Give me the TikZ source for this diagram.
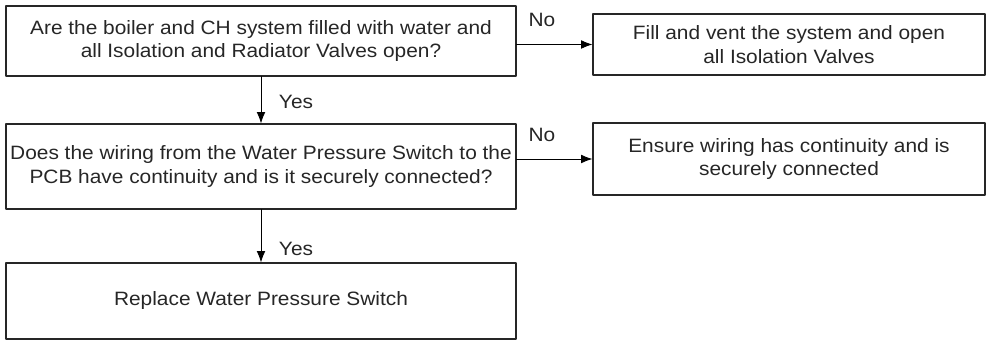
\documentclass[tikz,border=0pt]{standalone}
\usepackage{fontspec}
\setmainfont{Liberation Sans}[FakeStretch=1.08]
\usetikzlibrary{arrows.meta}

\begin{document}
\begin{tikzpicture}[x=0.02cm,y=-0.02cm,line cap=round,line join=round,
  >={Latex[length=6.5pt,width=5pt]},
  box/.style={draw=black!85,line width=0.6pt,align=center,inner sep=0pt,
    font=\fontsize{11}{13.6}\selectfont,text=black!85},
  lbl/.style={font=\fontsize{11}{13}\selectfont,text=black!85}]
  \useasboundingbox (0,0) rectangle (986,340);
  \node[box,minimum width=510*0.02cm,minimum height=70*0.02cm] (q1) at (261,41)
    {Are the boiler and CH system filled with water and\\all Isolation and Radiator Valves open?};
  \node[box,minimum width=392*0.02cm,minimum height=61*0.02cm] (a1) at (789,44.5)
    {Fill and vent the system and open\\all Isolation Valves};
  \node[box,minimum width=510*0.02cm,minimum height=85*0.02cm] (q2) at (261,166.5)
    {Does the wiring from the Water Pressure Switch to the\\PCB have continuity and is it securely connected?};
  \node[box,minimum width=392*0.02cm,minimum height=72*0.02cm] (a2) at (789,159)
    {Ensure wiring has continuity and is\\securely connected};
  \node[box,minimum width=510*0.02cm,minimum height=76*0.02cm] (r) at (261,301)
    {Replace Water Pressure Switch};
  \draw[line width=0.5pt,->] (q1.east |- a1.west) -- (a1.west);
  \draw[line width=0.5pt,->] (q2.east |- a2.west) -- (a2.west);
  \draw[line width=0.5pt,->] (q1.south) -- (q2.north);
  \draw[line width=0.5pt,->] (q2.south) -- (r.north);
  \node[lbl] (no1) at (542,20) {No};
  \node[lbl] (no2) at (542,135) {No};
  \node[lbl] (yes1) at (296,102) {Yes};
  \node[lbl] (yes2) at (296,249) {Yes};
\end{tikzpicture}
\end{document}
